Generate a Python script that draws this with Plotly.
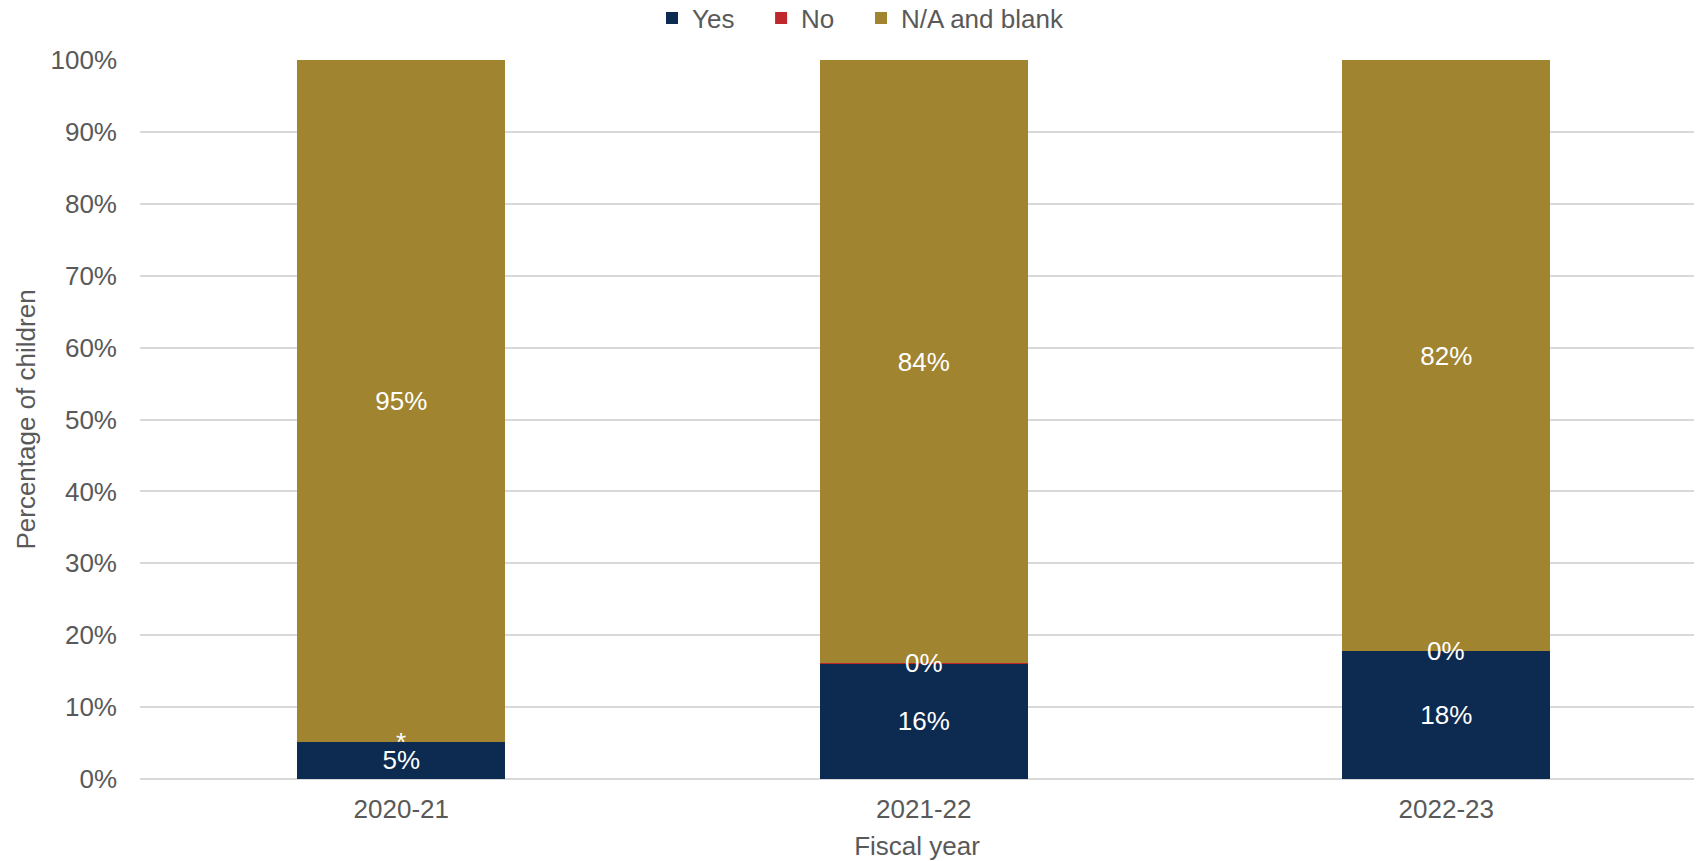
import plotly.graph_objects as go

years = ["2020-21", "2021-22", "2022-23"]
yes_vals = [5.2, 16.0, 17.8]
no_vals = [0.0, 0.15, 0.0]
na_vals = [94.8, 83.8, 82.2]
yes_labels = ["5%", "16%", "18%"]
no_labels = ["*", "0%", "0%"]
na_labels = ["95%", "84%", "82%"]
y_ticks = [0, 10, 20, 30, 40, 50, 60, 70, 80, 90, 100]
y_tick_labels = [f"{v}%" for v in y_ticks]

FONT = "Liberation Sans, Arial, sans-serif"
GRAY = "#595959"
FS = 26
NB = "\u00a0" * 3

fig = go.Figure()
common = dict(width=0.398, insidetextanchor="middle",
              constraintext="none", textangle=0,
              textfont=dict(family=FONT, size=FS, color="white"),
              hoverinfo="skip")
fig.add_trace(go.Bar(x=years, y=yes_vals, name="Yes" + NB, marker=dict(color="#0D2A50", line_width=0),
                     text=yes_labels, textposition="inside", **common))
fig.add_trace(go.Bar(x=years, y=no_vals, name="No" + NB, marker=dict(color="#C0272D", line_width=0),
                     textposition="none", **common))
fig.add_trace(go.Bar(x=years, y=na_vals, name="N/A and blank", marker=dict(color="#A08430", line_width=0),
                     text=na_labels, textposition="inside", **common))

for yr, yv, nv, lab in zip(years, yes_vals, no_vals, no_labels):
    fig.add_annotation(x=yr, y=yv + nv / 2, text=lab, showarrow=False,
                       xanchor="center", yanchor="middle",
                       font=dict(family=FONT, size=FS, color="white"))

W, H = 1697, 861
fig.update_layout(
    barmode="stack",
    width=W, height=H,
    margin=dict(l=140, r=3, t=59.5, b=81.5),
    paper_bgcolor="white", plot_bgcolor="white",
    font=dict(family=FONT, size=FS, color=GRAY),
    legend=dict(orientation="h", xref="container", x=0.5 + 12 / W, xanchor="center",
                yref="container", y=1 - 18 / H, yanchor="middle",
                font=dict(family=FONT, size=FS, color=GRAY), traceorder="normal",
                itemwidth=30),
    xaxis=dict(range=[-0.5, -0.5 + 1554 / 522.5], showgrid=False, showline=False, zeroline=False,
               tickfont=dict(family=FONT, size=FS, color=GRAY), ticks="", ticklabelstandoff=12,
               title=dict(text="Fiscal year", font=dict(family=FONT, size=FS, color=GRAY), standoff=18),
               automargin=False),
    yaxis=dict(range=[0, 100], tickvals=y_ticks, ticktext=y_tick_labels,
               showgrid=True, gridcolor="#D9D9D9", gridwidth=1.5,
               zeroline=True, zerolinecolor="#D9D9D9", zerolinewidth=1.5,
               showline=False, ticks="", ticklabelstandoff=22,
               tickfont=dict(family=FONT, size=FS, color=GRAY),
               title=dict(text="Percentage of children", font=dict(family=FONT, size=FS, color=GRAY), standoff=7),
               automargin=False),
)

fig.write_html("out.html", config={"displayModeBar": False},
               post_script="document.body.style.margin='0';")
